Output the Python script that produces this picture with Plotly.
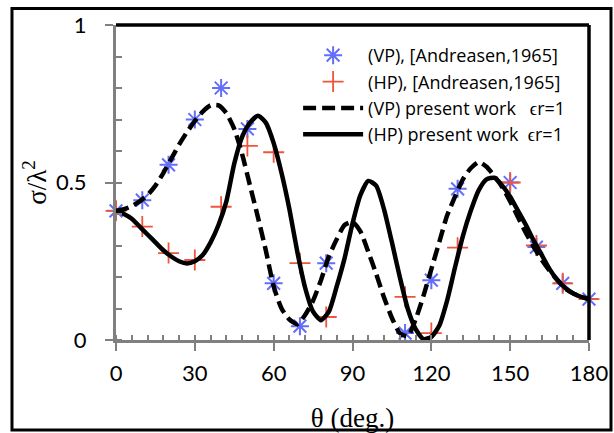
import plotly.graph_objects as go

# ---- data ----
theta_meas = [0, 10, 20, 30, 40, 50, 60, 70, 80, 110, 120, 130, 150, 160, 170, 180]
vp_meas = [0.41, 0.444, 0.556, 0.70, 0.80, 0.67, 0.18, 0.044, 0.244, 0.022, 0.19, 0.48, 0.50, 0.295, 0.18, 0.13]
theta_hp_meas = [0, 10, 20, 30, 40, 50, 60, 70, 80, 110, 120, 130, 150, 160, 170, 180]
hp_meas = [0.41, 0.36, 0.276, 0.254, 0.423, 0.616, 0.596, 0.244, 0.073, 0.137, 0.022, 0.293, 0.50, 0.30, 0.18, 0.13]

theta_curve = list(range(0, 181, 3))
vp_curve = [0.41, 0.415, 0.425, 0.44, 0.46, 0.49, 0.53, 0.575, 0.62, 0.66,
            0.695, 0.725, 0.745, 0.745, 0.72, 0.67, 0.59, 0.49, 0.39, 0.285,
            0.17, 0.10, 0.065, 0.05, 0.08, 0.125, 0.19, 0.265, 0.32, 0.365,
            0.375, 0.345, 0.28, 0.21, 0.135, 0.07, 0.022, 0.012, 0.065, 0.14,
            0.225, 0.31, 0.395, 0.455, 0.51, 0.545, 0.565, 0.55, 0.52, 0.485,
            0.44, 0.39, 0.34, 0.295, 0.255, 0.22, 0.19, 0.163, 0.148, 0.137, 0.13]
hp_curve = [0.41, 0.40, 0.385, 0.36, 0.335, 0.31, 0.285, 0.265, 0.25, 0.243,
            0.25, 0.27, 0.31, 0.365, 0.44, 0.56, 0.645, 0.69, 0.712, 0.69,
            0.625, 0.53, 0.415, 0.28, 0.165, 0.09, 0.063, 0.09, 0.17, 0.26,
            0.37, 0.46, 0.505, 0.49, 0.415, 0.31, 0.20, 0.10, 0.035, 0.003,
            0.01, 0.045, 0.125, 0.23, 0.33, 0.41, 0.475, 0.51, 0.515, 0.49,
            0.455, 0.41, 0.365, 0.315, 0.27, 0.225, 0.19, 0.165, 0.148, 0.137, 0.13]

x_ticks = [0, 30, 60, 90, 120, 150, 180]
y_ticks = [0, 0.5, 1]
y_tick_text = ["0", "0.5", "1"]

BLUE = "#4A7EC4"
RED = "#C94A47"
FONT = "Lato"
LEG_FONT = "Open Sans"
EPS = "\u03f5"

fig = go.Figure()
fig.add_trace(go.Scatter(x=theta_meas, y=vp_meas, mode="markers",
                         name="(VP), [Andreasen,1965]",
                         marker=dict(symbol="asterisk-open", size=15,
                                     line=dict(color=BLUE, width=2)),
                         cliponaxis=False))
fig.add_trace(go.Scatter(x=theta_hp_meas, y=hp_meas, mode="markers",
                         name="(HP), [Andreasen,1965]",
                         marker=dict(symbol="cross-thin-open", size=15,
                                     line=dict(color=RED, width=1.8)),
                         cliponaxis=False))
fig.add_trace(go.Scatter(x=theta_curve, y=vp_curve, mode="lines",
                         name="(VP) present work \u00a0\u00a0" + EPS + "r=1",
                         line=dict(color="black", width=4.5, dash="13px,6px", shape="spline", smoothing=0.6),
                         cliponaxis=False))
fig.add_trace(go.Scatter(x=theta_curve, y=hp_curve, mode="lines",
                         name="(HP) present work \u00a0" + EPS + "r=1",
                         line=dict(color="black", width=4.5, shape="spline", smoothing=0.6),
                         cliponaxis=False))

# outer frame and plot-area top/right border
fig.add_shape(type="rect", xref="paper", yref="paper",
              x0=-0.2199, x1=1.0465, y0=-0.2857, y1=1.052,
              line=dict(color="black", width=3))
fig.add_shape(type="line", xref="paper", yref="paper", x0=0, x1=1, y0=1, y1=1,
              line=dict(color="black", width=3.5))
fig.add_shape(type="line", xref="paper", yref="paper", x0=1, x1=1, y0=0, y1=1,
              line=dict(color="black", width=3.5))

fig.update_layout(
    width=614, height=433,
    margin=dict(l=116, r=25, t=25, b=93, autoexpand=False),
    paper_bgcolor="white", plot_bgcolor="white",
    font=dict(family=FONT, size=20, color="black"),
    showlegend=True,
    legend=dict(x=0.385, y=0.962, xanchor="left", yanchor="top",
                bgcolor="rgba(0,0,0,0)", itemwidth=60,
                font=dict(family=LEG_FONT, size=18), tracegroupgap=0),
    xaxis=dict(range=[0, 180], tickvals=x_ticks, showgrid=False, zeroline=False,
               automargin=False,
               showline=True, linecolor="#808080", linewidth=3,
               ticks="outside", ticklen=8, tickwidth=1.5, tickcolor="#808080",
               minor=dict(dtick=6, ticks="inside", ticklen=5, tickwidth=1.5, tickcolor="#808080"),
               tickfont=dict(family=FONT, size=22), ticklabelstandoff=4,
               title=dict(text="\u03b8 (deg.)", font=dict(family="Liberation Serif", size=27), standoff=27)),
    yaxis=dict(range=[0, 1], tickvals=y_ticks, ticktext=y_tick_text, showgrid=False, zeroline=False,
               automargin=False,
               showline=True, linecolor="#808080", linewidth=3,
               ticks="outside", ticklen=8, tickwidth=1.5, tickcolor="#808080",
               minor=dict(dtick=0.1, ticks="inside", ticklen=6, tickwidth=1.5, tickcolor="#808080"),
               tickfont=dict(family=FONT, size=22), ticklabelstandoff=14,
               title=dict(text="\u03c3/\u03bb<sup>2</sup>", font=dict(family="Liberation Serif", size=27), standoff=2)),
)

fig.write_html("out.html", config={"displayModeBar": False},
               post_script="document.body.style.margin='0';")
